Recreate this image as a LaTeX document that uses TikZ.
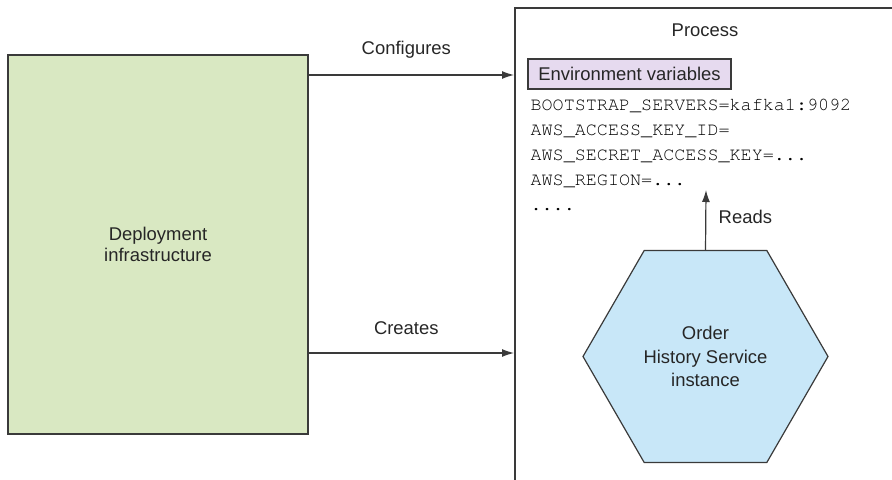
\documentclass[tikz,border=0pt]{standalone}
\usepackage{fontspec}
\setmainfont{Liberation Sans}
\setmonofont{TeX Gyre Cursor}
\usepackage{xcolor}
\usetikzlibrary{arrows.meta,shapes.geometric,positioning}
\definecolor{infragreen}{HTML}{D9E8C2}
\definecolor{svcblue}{HTML}{C8E7F8}
\definecolor{envlilac}{HTML}{E6DAEF}
\definecolor{linegray}{HTML}{3A3A3A}

\begin{document}
\begin{tikzpicture}[x=1bp,y=-1bp,>={Latex[length=12bp,width=8bp]},line width=1.2bp,
  every node/.style={font=\fontsize{18.5}{21.5}\selectfont,text=black!85},
  infra/.style={draw=linegray,fill=infragreen,align=center,minimum width=300bp,minimum height=379bp},
  envbox/.style={draw=linegray,fill=envlilac,minimum width=203bp,minimum height=30bp,inner sep=0pt},
  hexa/.style={draw=linegray,fill=svcblue,regular polygon,regular polygon sides=6,minimum size=245bp,
    inner sep=0pt,outer sep=0pt,align=center,font=\fontsize{18.5}{24}\selectfont},
  envvar/.style={anchor=base west,inner sep=0pt,text=black,font=\ttfamily\fontsize{18.5}{21.5}\selectfont},
  flow/.style={->,draw=linegray}]
\useasboundingbox (0,0) rectangle (892,480);
\clip (0,0) rectangle (892,480);
% deployment side
\node[infra] (infra) at (158,244.5) {Deployment\\infrastructure};
% process frame
\draw[draw=linegray] (515,500) |- (900,8);
\node (proc) at (705,30) {Process};
\node[envbox] (env) at (629.5,74) {Environment variables};
\foreach \v [count=\i from 0] in {BOOTSTRAP\_SERVERS=kafka1:9092,AWS\_ACCESS\_KEY\_ID=,
    AWS\_SECRET\_ACCESS\_KEY=.{}.{}.,AWS\_REGION=.{}.{}.,.{}.{}.{}.}
  \node[envvar] (var\i) at (530,111+25*\i) {\v};
\node[hexa] (svc) at (705.5,356.5) {Order\\History Service\\instance};
% connectors
\coordinate (cfgend) at (514,75);
\coordinate (crtend) at (514,353);
\coordinate (readend) at (706,190);
\draw[flow] (infra.east |- cfgend) -- (cfgend) node[midway,xshift=-5bp,yshift=25bp]{Configures};
\draw[flow] (infra.east |- crtend) -- (crtend) node[midway,xshift=-5bp,yshift=25bp]{Creates};
\draw[flow] (svc.north) -- (readend) node[pos=0.56,anchor=west,xshift=9bp]{Reads};
\end{tikzpicture}
\end{document}
